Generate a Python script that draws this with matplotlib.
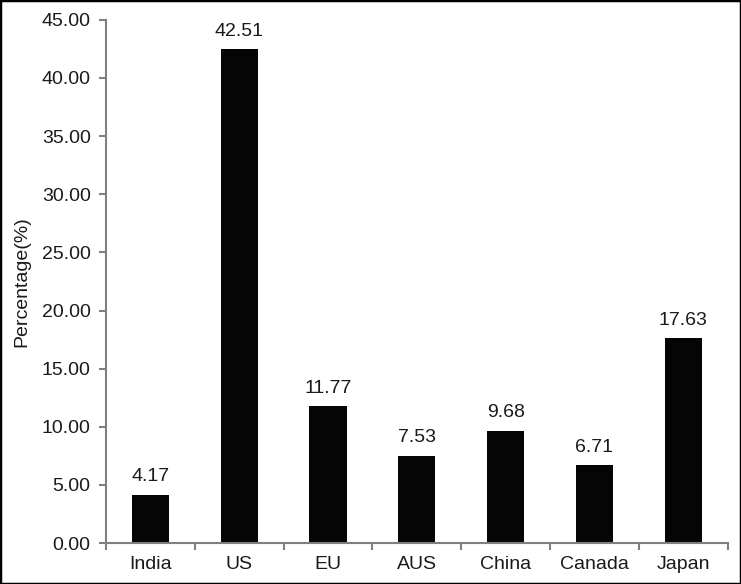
import numpy as np
import matplotlib.pyplot as plt
from matplotlib.patches import Rectangle

plt.rcParams['font.family'] = ['Liberation Sans', 'DejaVu Sans']

countries = ['India', 'US', 'EU', 'AUS', 'China', 'Canada', 'Japan']
percent = [4.17, 42.51, 11.77, 7.53, 9.68, 6.71, 17.63]
yticks = np.arange(0, 45.01, 5)

fig = plt.figure(figsize=(7.41, 5.84), dpi=100)
ax = fig.add_axes([0.143, 0.070, 0.839, 0.896])

x = np.arange(len(countries))
ax.bar(x, percent, width=0.42, color='#050505')
for xi, v in zip(x, percent):
    ax.text(xi, v + 0.8, f'{v:.2f}', ha='center', va='bottom', fontsize=14, color='#1a1a1a')

ax.set_xlim(-0.5, len(countries) - 0.5)
ax.set_ylim(0, 45)
ax.set_yticks(yticks)
ax.set_yticklabels([f'{t:.2f}' for t in yticks])
ax.set_xticks(x)
ax.set_xticklabels(countries)
ax.set_xticks(np.arange(-0.5, len(countries), 1), minor=True)
ax.tick_params(axis='x', which='major', length=0, pad=9, labelsize=14, labelcolor='#1a1a1a')
ax.tick_params(axis='x', which='minor', length=5, width=1.5, color='#808080')
ax.tick_params(axis='y', length=5, width=1.5, color='#808080', labelsize=14, labelcolor='#1a1a1a', pad=6)
ax.set_ylabel('Percentage(%)', fontsize=14, color='#1a1a1a', labelpad=8)

for s in ['top', 'right']:
    ax.spines[s].set_visible(False)
for s in ['left', 'bottom']:
    ax.spines[s].set_color('#808080')
    ax.spines[s].set_linewidth(1.5)

fig.patches.append(Rectangle((0, 0), 1, 1, transform=fig.transFigure, fill=False,
                             edgecolor='black', linewidth=2.5))

fig.savefig('out.png', dpi=100)
